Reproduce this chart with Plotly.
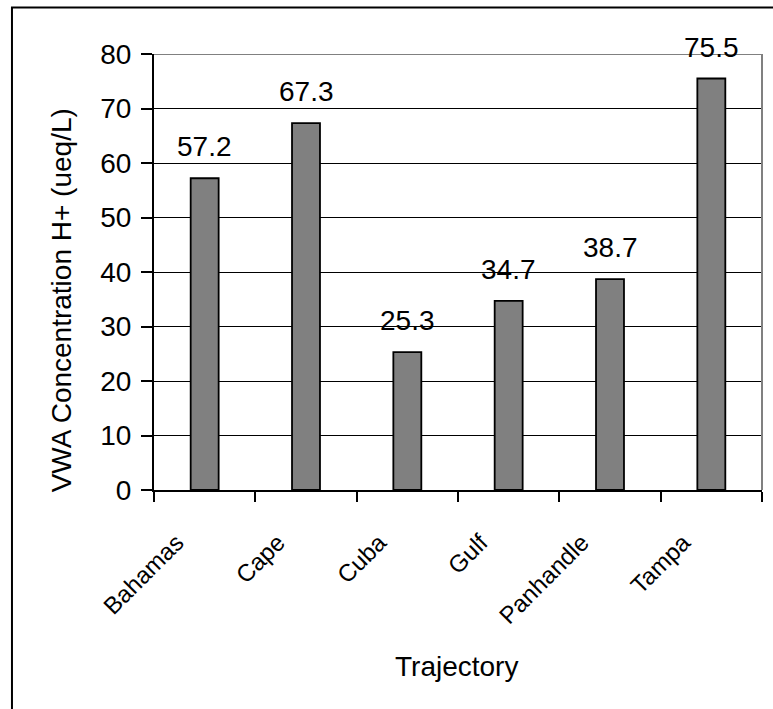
import plotly.graph_objects as go

# Volume-weighted average H+ concentration by back-trajectory group
trajectories = ["Bahamas", "Cape", "Cuba", "Gulf", "Panhandle", "Tampa"]
h_plus = [57.2, 67.3, 25.3, 34.7, 38.7, 75.5]
y_ticks = [0, 10, 20, 30, 40, 50, 60, 70, 80]

FONT = "Liberation Sans, Arial, sans-serif"

fig = go.Figure(
    go.Bar(
        x=trajectories,
        y=h_plus,
        width=0.276,
        marker=dict(color="#808080", line=dict(color="black", width=1.8)),
        showlegend=False,
    )
)

# value labels above each bar
for name, val in zip(trajectories, h_plus):
    fig.add_annotation(
        x=name, y=val, text=f"{val:.1f}", showarrow=False,
        xanchor="center", yanchor="bottom", yshift=14,
        font=dict(family=FONT, size=28, color="black"),
    )

# axis titles
fig.add_annotation(
    xref="paper", yref="paper", x=-0.153, y=0.435,
    text="VWA Concentration H+ (ueq/L)", textangle=-90, showarrow=False,
    xanchor="center", yanchor="middle",
    font=dict(family=FONT, size=28, color="black"),
)
fig.add_annotation(
    xref="paper", yref="paper", x=0.498, y=-0.4055,
    text="Trajectory", showarrow=False,
    xanchor="center", yanchor="middle",
    font=dict(family=FONT, size=28, color="black"),
)

# gray frame on top and right of the plot area
fig.add_shape(type="line", xref="paper", yref="y", x0=0, x1=1, y0=80, y1=80,
              line=dict(color="#808080", width=2), layer="above")
fig.add_shape(type="line", xref="paper", yref="y", x0=1, x1=1, y0=0, y1=80,
              line=dict(color="#808080", width=2), layer="above")

# outer chart border
fig.add_shape(type="rect", xref="paper", yref="paper",
              x0=-0.2336, x1=1.2, y0=-0.7, y1=1.1065,
              line=dict(color="black", width=2), fillcolor="rgba(0,0,0,0)")

fig.update_layout(
    width=773, height=709,
    margin=dict(l=154, r=11, t=54, b=219),
    paper_bgcolor="white", plot_bgcolor="white",
    bargap=0.724,
    font=dict(family=FONT, color="black"),
)
fig.update_xaxes(
    showline=True, linecolor="black", linewidth=2,
    ticks="outside", ticklen=10, tickwidth=2, tickcolor="black",
    tickson="boundaries", tickangle=-45,
    ticklabelstandoff=27, ticklabelshift=-28,
    tickfont=dict(family=FONT, size=24, color="black"),
    showgrid=False, zeroline=False,
)
fig.update_yaxes(
    range=[0, 80], tickvals=y_ticks,
    showline=True, linecolor="black", linewidth=2,
    ticks="outside", ticklen=11, tickwidth=2, tickcolor="black",
    ticklabelstandoff=4,
    showgrid=True, gridcolor="black", gridwidth=1,
    zeroline=False,
    tickfont=dict(family=FONT, size=28, color="black"),
)

fig.write_html("out.html")
